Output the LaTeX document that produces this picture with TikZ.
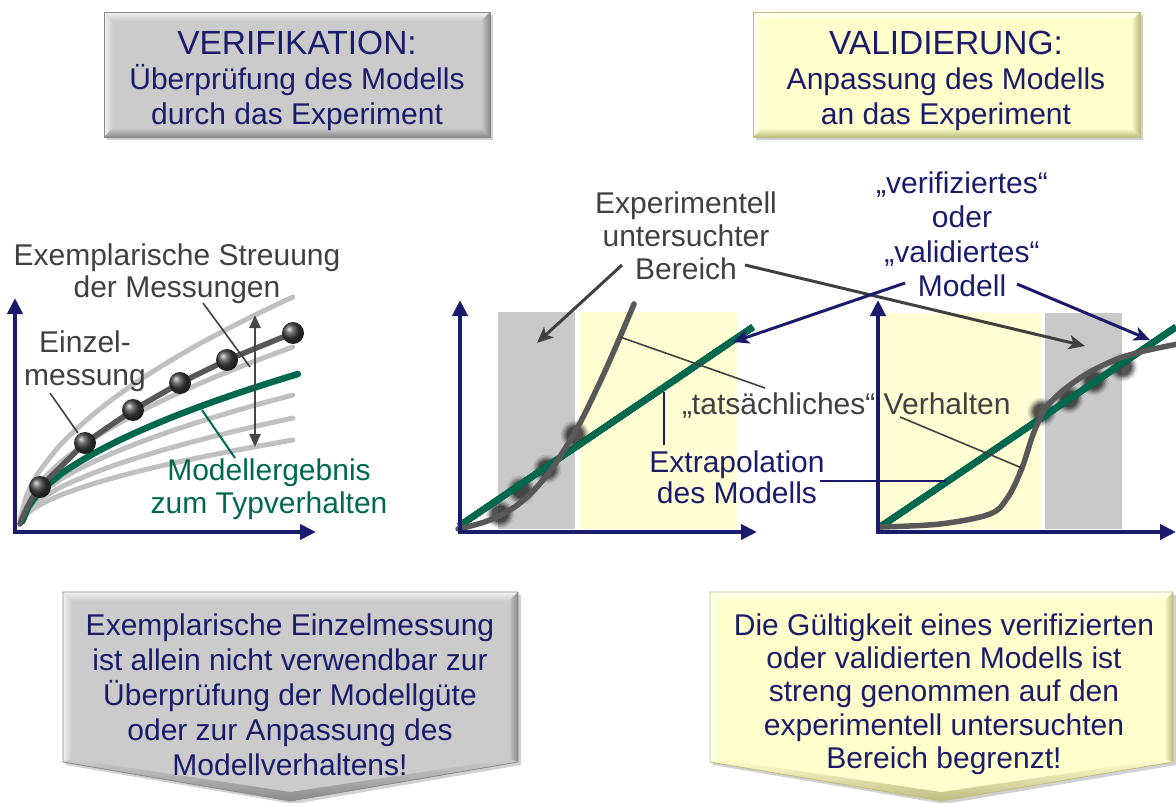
\documentclass[tikz,border=0pt]{standalone}
\usepackage{fontspec}
\setmainfont{Liberation Sans}
\usetikzlibrary{arrows.meta,calc}

\definecolor{navy}{RGB}{27,27,107}
\definecolor{modelgreen}{RGB}{0,104,78}
\definecolor{curvedark}{RGB}{88,88,88}
\definecolor{curvelight}{RGB}{192,192,192}
\definecolor{labelgray}{RGB}{64,64,64}
\definecolor{zonegray}{RGB}{201,201,201}
\definecolor{zoneyellow}{RGB}{255,255,211}
\definecolor{panelgray}{RGB}{203,203,203}
\definecolor{panelgraylight}{RGB}{242,242,242}
\definecolor{panelgraydark}{RGB}{138,138,138}
\definecolor{panelyellow}{RGB}{255,255,204}
\definecolor{panelyellowlight}{RGB}{255,255,242}
\definecolor{panelyellowdark}{RGB}{188,188,128}

% bevelled rectangle: x1,y1,x2,y2,base,light,dark
\newcommand\bevelpanel[7]{%
  \fill[black,opacity=0.18] ($(#1,#2)+(3,3)$) rectangle ($(#3,#4)+(3,3)$);
  \fill[#5] (#1,#2) rectangle (#3,#4);
  \shade[top color=#6,bottom color=#5] (#1,#2) -- (#3,#2) -- ($(#3,#2)+(-9,9)$) -- ($(#1,#2)+(9,9)$) -- cycle;
  \shade[left color=#6,right color=#5] (#1,#2) -- ($(#1,#2)+(9,9)$) -- ($(#1,#4)+(9,-9)$) -- (#1,#4) -- cycle;
  \shade[top color=#5,bottom color=#7] (#1,#4) -- ($(#1,#4)+(9,-9)$) -- ($(#3,#4)+(-9,-9)$) -- (#3,#4) -- cycle;
  \shade[left color=#5,right color=#7] (#3,#2) -- (#3,#4) -- ($(#3,#4)+(-9,-9)$) -- ($(#3,#2)+(-9,9)$) -- cycle;
  \draw[#7,line width=0.8] (#1,#2) rectangle (#3,#4);
}
% bevelled downward pennant: x1,y1,x2,y2(side bottom),tip y,base,light,dark
\newcommand\bevelpennant[8]{%
  \coordinate (pA) at (#1,#2);
  \coordinate (pB) at (#3,#2);
  \coordinate (pC) at (#3,#4);
  \coordinate (pD) at ($(#1,#5)!0.5!(#3,#5)$);
  \coordinate (pE) at (#1,#4);
  \coordinate (qA) at ($(pA)+(9,9)$);
  \coordinate (qB) at ($(pB)+(-9,9)$);
  \coordinate (qC) at ($(pC)+(-9,-3)$);
  \coordinate (qD) at ($(pD)+(0,-9)$);
  \coordinate (qE) at ($(pE)+(9,-3)$);
  \fill[black,opacity=0.18] ($(pA)+(3,3)$) -- ($(pB)+(3,3)$) -- ($(pC)+(3,3)$) -- ($(pD)+(3,3)$) -- ($(pE)+(3,3)$) -- cycle;
  \fill[#6] (pA) -- (pB) -- (pC) -- (pD) -- (pE) -- cycle;
  \shade[top color=#7,bottom color=#6] (pA) -- (pB) -- (qB) -- (qA) -- cycle;
  \shade[left color=#7,right color=#6] (pA) -- (qA) -- (qE) -- (pE) -- cycle;
  \shade[left color=#6,right color=#8] (pB) -- (pC) -- (qC) -- (qB) -- cycle;
  \shade[top color=#6,bottom color=#8] (pE) -- (qE) -- (qD) -- (pD) -- cycle;
  \shade[top color=#6,bottom color=#8] (pD) -- (qD) -- (qC) -- (pC) -- cycle;
  \draw[#8,line width=0.8] (pA) -- (pB) -- (pC) -- (pD) -- (pE) -- cycle;
}
% blurred measurement dot
\newcommand\softdot[1]{%
  \foreach \r/\o in {14.5/0.10,13/0.16,11.5/0.24,10/0.34,8.5/0.45}
    \fill[black!85,opacity=\o] #1 circle (\r);
}

\begin{document}
\begin{tikzpicture}[x=1pt,y=-1pt,
  every node/.style={inner sep=0pt,outer sep=0pt},
  txt/.style={align=center,anchor=north},
  axis/.style={navy,line width=4,line cap=rect,-{Triangle[length=16,width=15]}},
  lightcurve/.style={curvelight,line width=5,line cap=round},
  darkcurve/.style={curvedark,line width=5.5,line cap=round,line join=round},
  greencurve/.style={modelgreen,line width=6.5,line cap=round},
  sharpball/.style={ball color=black!75},
  leader/.style={labelgray,line width=1.6},
  grayarrow/.style={labelgray,line width=3,-{Stealth[length=16,width=14,inset=4]}},
  navyarrow/.style={navy,line width=3,-{Stealth[length=16,width=14,inset=4]}},
  navyleader/.style={navy,line width=2},
]
\useasboundingbox (0,0) rectangle (1176,803);

% ---------- headline panels ----------
\bevelpanel{104}{12}{490}{137}{panelgray}{panelgraylight}{panelgraydark}
\bevelpanel{753}{12}{1140}{137}{panelyellow}{panelyellowlight}{panelyellowdark}
\node[txt,navy,font=\fontsize{30}{35}\selectfont] (verif) at (297,31)
  {{\fontsize{33.5}{35}\selectfont VERIFIKATION:}\\Überprüfung des Modells\\durch das Experiment};
\node[txt,navy,font=\fontsize{30}{35}\selectfont] (valid) at (946,31)
  {{\fontsize{33.5}{35}\selectfont VALIDIERUNG:}\\Anpassung des Modells\\an das Experiment};

% ---------- conclusion pennants ----------
\bevelpennant{63}{592}{518}{762}{801}{panelgray}{panelgraylight}{panelgraydark}
\bevelpennant{710}{592}{1173}{762}{801}{panelyellow}{panelyellowlight}{panelyellowdark}
\node[txt,navy,font=\fontsize{30}{35}\selectfont] (conclL) at (290,614)
  {Exemplarische Einzelmessung\\ist allein nicht verwendbar zur\\Überprüfung der Modellgüte\\oder zur Anpassung des\\Modellverhaltens!};
\node[txt,navy,font=\fontsize{30}{33.3}\selectfont] (conclR) at (944,613.5)
  {Die Gültigkeit eines verifizierten\\oder validierten Modells ist\\streng genommen auf den\\experimentell untersuchten\\Bereich begrenzt!};

% ---------- left graph: scatter of measurements ----------
\foreach \d in {228,178,130,107,85}
  \draw[lightcurve] plot[domain=0.002:1,samples=50,variable=\t] ({20+273*\t},{525-\d*\t^0.55});
\draw[greencurve] plot[domain=0.002:1,samples=50,variable=\t] ({22+276*\t},{526-152*\t^0.55});
\draw[darkcurve] (20,524) .. controls (26,508) and (32,497) .. (40,487)
  -- (85,443) -- (133,410) -- (180,383) -- (227,360) -- (293,333);
\foreach \p in {(40,487),(85,443),(133,410),(180,383),(227,360),(293,333)}
  \shade[sharpball] \p circle (11);
\coordinate (o1) at (15,532);
\coordinate (y1) at (15,298);
\coordinate (x1) at (316,532);
\draw[axis] (o1) -- (y1);
\draw[axis] (o1) -- (x1);
\coordinate (spanTop) at (255,315);
\coordinate (spanBot) at (255,447);
\draw[curvedark!80!black,line width=2.5,{Triangle[length=13,width=11]}-{Triangle[length=13,width=11]}] (spanTop) -- (spanBot);

\node[txt,labelgray,font=\fontsize{30}{32}\selectfont] (streu) at (177,243.5)
  {Exemplarische Streuung\\der Messungen};
\node[txt,labelgray,font=\fontsize{30}{33}\selectfont] (einzel) at (85,330.5)
  {Einzel-\\messung};
\node[txt,modelgreen,font=\fontsize{30}{33}\selectfont] (typ) at (269,458.5)
  {Modellergebnis\\zum Typverhalten};
\coordinate (streuA) at (203,303);
\coordinate (streuB) at (250,367);
\draw[leader] (streuA) -- (streuB);
\coordinate (einzelA) at (50,393);
\coordinate (einzelB) at (78,433);
\draw[leader] (einzelA) -- (einzelB);
\coordinate (typA) at (235,458);
\coordinate (typB) at (202,410);
\draw[modelgreen,line width=2] (typA) -- (typB);

% ---------- middle graph: extrapolation ----------
\fill[zonegray] (498,312) rectangle (575,529);
\fill[zoneyellow] (579,312) rectangle (737,529);
\foreach \p in {(500,514),(521,490),(547,469),(575,435)}
  \softdot{\p}
\draw[greencurve,line cap=butt] (459,526) -- (753,327);
\draw[darkcurve] plot[smooth,tension=0.6] coordinates
  {(458,529) (490,520) (520,503) (547,475) (575,432) (600,382) (620,337) (634,304)};
\coordinate (o2) at (460,532);
\coordinate (y2) at (460,300);
\coordinate (x2) at (757,532);
\draw[axis] (o2) -- (y2);
\draw[axis] (o2) -- (x2);

% ---------- right graph: validated model ----------
\fill[zoneyellow] (880,313) rectangle (1041,529);
\fill[zonegray] (1045,313) rectangle (1122,529);
\foreach \p in {(1042,412),(1069,399),(1094,381),(1123,367)}
  \softdot{\p}
\draw[greencurve,line cap=butt] (880,527) -- (1176,327);
\draw[darkcurve] plot[smooth,tension=0.55] coordinates
  {(880,527) (940,524) (990,514) (1008,497) (1022,468) (1034,432) (1048,405) (1077,380) (1110,362) (1140,352) (1178,344)};
\coordinate (o3) at (878,532);
\coordinate (y3) at (878,300);
\coordinate (x3) at (1176,532);
\draw[axis] (o3) -- (y3);
\draw[axis] (o3) -- (x3);

% ---------- labels of the middle and right graphs ----------
\node[txt,labelgray,font=\fontsize{30}{33}\selectfont] (bereich) at (686,191.5)
  {Experimentell\\untersuchter\\Bereich};
\node[labelgray,anchor=base west,font=\fontsize{30}{33}\selectfont] (tats) at (682,414)
  {„tatsächliches“ Verhalten};
\node[txt,navy,font=\fontsize{30}{31}\selectfont] (extrap) at (737,450.5)
  {Extrapolation\\des Modells};
\node[txt,navy,font=\fontsize{30}{34.5}\selectfont] (modell) at (962,171.5)
  {„verifiziertes“\\oder\\„validiertes“\\Modell};

\coordinate (berA) at (622,265);
\coordinate (berB) at (537,343);
\draw[grayarrow] (berA) -- (berB);
\coordinate (berC) at (745,265);
\coordinate (berD) at (1085,346);
\draw[grayarrow] (berC) -- (berD);

\coordinate (tatsA) at (765,388);
\coordinate (tatsB) at (620,337);
\draw[leader] (tatsA) -- (tatsB);
\coordinate (tatsC) at (900,417);
\coordinate (tatsD) at (1022,468);
\draw[leader] (tatsC) -- (tatsD);

\coordinate (extA) at (664,445);
\coordinate (extB) at (664,392);
\draw[navyleader] (extA) -- (extB);
\coordinate (extC) at (820,481);
\coordinate (extD) at (946,481);
\draw[navyleader] (extC) -- (extD);

\coordinate (modA) at (905,283);
\coordinate (modB) at (733,342);
\draw[navyarrow] (modA) -- (modB);
\coordinate (modC) at (1017,284);
\coordinate (modD) at (1150,340);
\draw[navyarrow] (modC) -- (modD);
\end{tikzpicture}
\end{document}
